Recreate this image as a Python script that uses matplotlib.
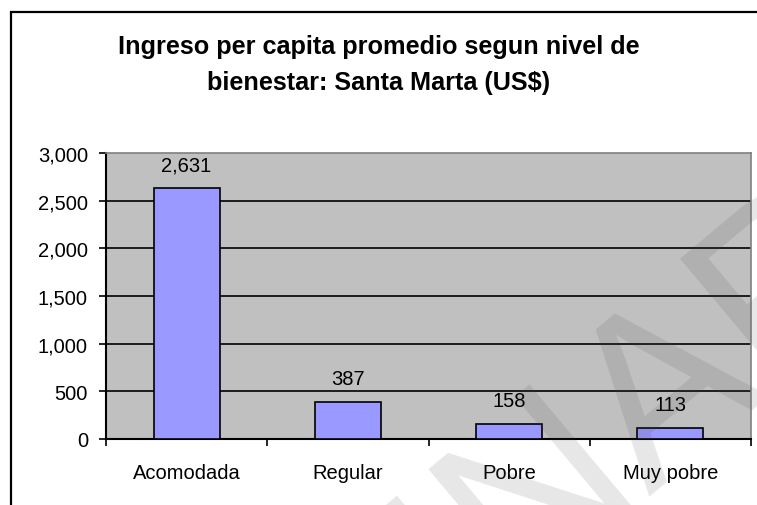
import matplotlib
matplotlib.use("Agg")
import matplotlib.pyplot as plt
from matplotlib.patches import Rectangle

categories = ["Acomodada", "Regular", "Pobre", "Muy pobre"]
values = [2631, 387, 158, 113]
value_labels = ["2,631", "387", "158", "113"]
yticks = [0, 500, 1000, 1500, 2000, 2500, 3000]
ytick_labels = ["0", "500", "1,000", "1,500", "2,000", "2,500", "3,000"]
title_lines = ["Ingreso per capita promedio segun nivel de", "bienestar: Santa Marta (US$)"]

plt.rcParams['font.family'] = ['Liberation Sans', 'DejaVu Sans']

W, H = 757, 506
fig = plt.figure(figsize=(W / 100, H / 100), dpi=100)
fig.patch.set_facecolor('white')

# outer chart border (cropped at right and bottom)
fig.patches.append(Rectangle((10.5 / W, -0.1), 1.2, (H - 13.3) / H + 0.1,
                             transform=fig.transFigure, fill=False,
                             edgecolor='black', linewidth=1.6, zorder=0))

ax = fig.add_axes([106 / W, (H - 440) / H, (751 - 106) / W, (440 - 154) / H])
ax.set_facecolor('#C0C0C0')

x = list(range(len(categories)))
bars = ax.bar(x, values, width=0.41, color='#9999FF', edgecolor='black',
              linewidth=1.2, zorder=3)

for xi, v, lab in zip(x, values, value_labels):
    ax.annotate(lab, (xi, v), xytext=(0, 18), textcoords='offset pixels',
                ha='center', va='baseline', fontsize=14.5, color='black', zorder=4)

ax.set_xlim(-0.5, len(categories) - 0.5)
ax.set_ylim(0, 3000)
ax.set_yticks(yticks)
ax.set_yticklabels(ytick_labels, fontsize=14.5)
ax.yaxis.grid(True, color='black', linewidth=1.2, zorder=1)
ax.set_axisbelow(True)
ax.get_ygridlines()[-1].set_visible(False)
ax.get_ygridlines()[0].set_visible(False)

ax.set_xticks([i - 0.5 for i in range(len(categories) + 1)])
ax.set_xticklabels([])
ax.set_xticks(x, minor=True)
ax.set_xticklabels(categories, minor=True, fontsize=14.5)
ax.tick_params(axis='x', which='major', length=5, width=1.2, direction='out')
ax.tick_params(axis='x', which='minor', length=0, pad=17)
ax.tick_params(axis='y', length=5, width=1.2, direction='out', pad=8)

for s in ['left', 'bottom']:
    ax.spines[s].set_color('black')
    ax.spines[s].set_linewidth(1.5)
for s in ['top', 'right']:
    ax.spines[s].set_color('#808080')
    ax.spines[s].set_linewidth(1.2)

# title
fig.text(0.5, (H - 54) / H, title_lines[0], ha='center', va='baseline',
         fontsize=18.2, fontweight='bold')
fig.text(0.5, (H - 90) / H, title_lines[1], ha='center', va='baseline',
         fontsize=18.2, fontweight='bold')

# watermark
fig.text(305 / W, (H - 690) / H, "PRELIMINAR", rotation=40, rotation_mode='anchor',
         ha='center', va='center', fontsize=170, fontweight='normal',
         color=(0.28, 0.28, 0.28), alpha=0.13, zorder=10)

fig.savefig("out.png", dpi=100)
